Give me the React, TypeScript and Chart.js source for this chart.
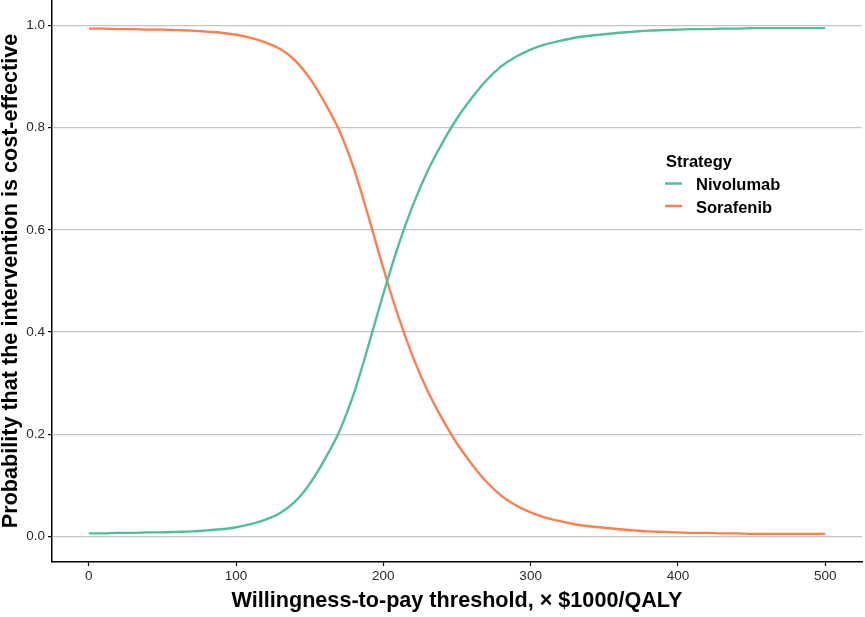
import React, { useEffect, useRef } from "react";
import { Chart, registerables } from "chart.js";

Chart.register(...registerables);

const wtp = [0, 10, 20, 30, 40, 50, 60, 70, 80, 90, 100, 110, 120, 130, 140, 150, 160, 170, 180, 190, 200, 210, 220, 230, 240, 250, 260, 270, 280, 290, 300, 310, 320, 330, 340, 350, 360, 370, 380, 390, 400, 410, 420, 430, 440, 450, 460, 470, 480, 490, 500];

const nivolumab = [0.006, 0.006, 0.007, 0.007, 0.008, 0.008, 0.009, 0.010, 0.012, 0.014, 0.018, 0.024, 0.033, 0.046, 0.068, 0.103, 0.150, 0.205, 0.280, 0.375, 0.475, 0.568, 0.648, 0.715, 0.770, 0.818, 0.858, 0.893, 0.920, 0.939, 0.953, 0.963, 0.970, 0.976, 0.980, 0.983, 0.986, 0.988, 0.990, 0.991, 0.992, 0.993, 0.993, 0.994, 0.994, 0.995, 0.995, 0.995, 0.995, 0.995, 0.995];

const sorafenib = [0.994, 0.994, 0.993, 0.993, 0.992, 0.992, 0.991, 0.990, 0.988, 0.986, 0.982, 0.976, 0.967, 0.954, 0.932, 0.897, 0.850, 0.795, 0.720, 0.625, 0.525, 0.432, 0.352, 0.285, 0.230, 0.182, 0.142, 0.107, 0.080, 0.061, 0.047, 0.037, 0.030, 0.024, 0.020, 0.017, 0.014, 0.012, 0.010, 0.009, 0.008, 0.007, 0.007, 0.006, 0.006, 0.005, 0.005, 0.005, 0.005, 0.005, 0.005];

const seriesNames = ["Nivolumab", "Sorafenib"];
const seriesColors = ["#4FBF98", "#FC7F4E"];
const xTicks = [0, 100, 200, 300, 400, 500];
const yTicks = [0, 0.2, 0.4, 0.6, 0.8, 1.0];
const xTitle = "Willingness-to-pay threshold, × $1000/QALY";
const yTitle = "Probability that the intervention is cost-effective";
const legendTitle = "Strategy";

const FONT = "'Liberation Sans', Arial, Helvetica, sans-serif";

const legendPlugin = {
  id: "ggLegend",
  afterDraw(chart: any) {
    const ctx = chart.ctx;
    ctx.save();
    ctx.fillStyle = "#000";
    ctx.textBaseline = "alphabetic";
    ctx.textAlign = "left";
    ctx.font = `bold 16.5px ${FONT}`;
    ctx.fillText(legendTitle, 666, 167);
    const rows = [183.5, 206];
    seriesNames.forEach((name, i) => {
      ctx.strokeStyle = seriesColors[i];
      ctx.lineWidth = 2.5;
      ctx.beginPath();
      ctx.moveTo(665, rows[i]);
      ctx.lineTo(682, rows[i]);
      ctx.stroke();
      ctx.fillStyle = "#000";
      ctx.font = `bold 16.5px ${FONT}`;
      ctx.fillText(name, 696, rows[i] + 6.5);
    });
    ctx.restore();
  },
};

export default function App() {
  const ref = useRef<HTMLCanvasElement | null>(null);

  useEffect(() => {
    if (!ref.current) return;
    const chart = new Chart(ref.current, {
      type: "line",
      data: {
        datasets: [
          {
            label: seriesNames[0],
            data: wtp.map((x, i) => ({ x, y: nivolumab[i] })),
            borderColor: seriesColors[0],
            backgroundColor: seriesColors[0],
            borderWidth: 2.4,
            pointRadius: 0,
            cubicInterpolationMode: "monotone",
            fill: false,
          },
          {
            label: seriesNames[1],
            data: wtp.map((x, i) => ({ x, y: sorafenib[i] })),
            borderColor: seriesColors[1],
            backgroundColor: seriesColors[1],
            borderWidth: 2.4,
            pointRadius: 0,
            cubicInterpolationMode: "monotone",
            fill: false,
          },
        ],
      },
      options: {
        animation: false,
        responsive: false,
        maintainAspectRatio: false,
        layout: { padding: { top: 0, right: 3, bottom: 0, left: 0 } },
        plugins: {
          legend: { display: false },
          tooltip: { enabled: false },
        },
        scales: {
          x: {
            type: "linear",
            min: -25,
            max: 525,
            afterBuildTicks: (scale: any) => {
              scale.ticks = xTicks.map((v) => ({ value: v }));
            },
            afterFit: (scale: any) => {
              scale.height = 55;
              scale.paddingLeft = 0;
              scale.paddingRight = 0;
            },
            border: { display: true, color: "#000", width: 1.5 },
            grid: {
              drawOnChartArea: false,
              drawTicks: true,
              tickLength: 4,
              tickColor: "#000",
              tickWidth: 1.2,
            },
            ticks: {
              color: "#2b2b2b",
              font: { family: FONT, size: 13.5 },
              padding: 2,
              maxRotation: 0,
              callback: (v: any) => String(v),
            },
            title: {
              display: true,
              text: xTitle,
              color: "#000",
              font: { family: FONT, size: 21.6, weight: "bold", lineHeight: 1.0 },
              padding: { top: 0, bottom: 5 },
            },
          },
          y: {
            type: "linear",
            min: -0.05,
            max: 1.05,
            afterBuildTicks: (scale: any) => {
              scale.ticks = yTicks.map((v) => ({ value: v }));
            },
            afterFit: (scale: any) => {
              scale.width = 52;
              scale.paddingTop = 0;
              scale.paddingBottom = 0;
            },
            border: { display: true, color: "#000", width: 1.5 },
            grid: {
              drawOnChartArea: true,
              color: "#c4c4c4",
              lineWidth: 1.2,
              drawTicks: true,
              tickLength: 4,
              tickColor: "#000",
              tickWidth: 1.2,
            },
            ticks: {
              color: "#2b2b2b",
              font: { family: FONT, size: 13.5 },
              padding: 3,
              callback: (v: any) => Number(v).toFixed(1),
            },
            title: {
              display: true,
              text: yTitle,
              color: "#000",
              font: { family: FONT, size: 21.6, weight: "bold", lineHeight: 1.0 },
              padding: { top: 0, bottom: 0 },
            },
          },
        },
      },
      plugins: [legendPlugin],
    } as any);
    return () => chart.destroy();
  }, []);

  return (
    <div style={{ position: "absolute", left: 0, top: 0, width: 865, height: 617, background: "#fff" }}>
      <canvas ref={ref} width={865} height={617} style={{ display: "block", width: 865, height: 617 }} />
    </div>
  );
}
